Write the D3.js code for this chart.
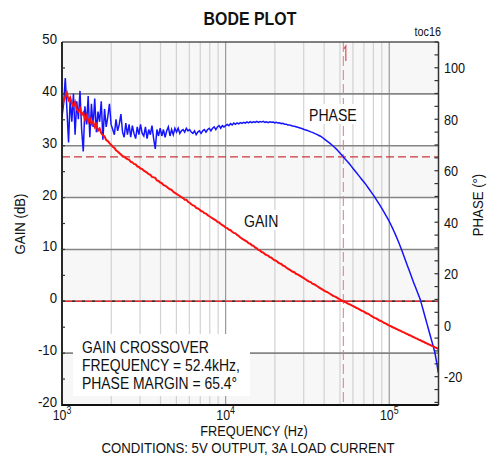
<!DOCTYPE html>
<html>
<head>
<meta charset="utf-8">
<script src="https://cdn.jsdelivr.net/npm/d3@7"></script>
<style>
  body { margin: 0; background: #fff; }
  svg { display: block; }
</style>
</head>
<body>
<svg id="chart" width="490" height="458"></svg>
<script>
// Gain (dB) and phase (deg), analyzer sweep 1kHz..200kHz, 100 points per decade
const gainDb = [
  37.5, 38.6, 39.4, 40.2, 38.8, 39.3, 38.1, 37.6, 38.4, 37.0,
  36.6, 37.2, 35.9, 36.4, 35.1, 35.8, 34.6, 35.3, 34.2, 34.7,
  33.6, 34.1, 32.9, 33.3, 32.4, 32.0, 31.8, 31.1, 30.9, 30.5,
  30.2, 29.8, 29.6, 29.1, 28.9, 28.6, 28.3, 28.0, 27.9, 27.6,
  27.4, 27.3, 26.9, 26.8, 26.5, 26.4, 26.0, 25.9, 25.6, 25.5,
  25.2, 25.0, 24.8, 24.5, 24.4, 24.0, 23.9, 23.8, 23.3, 23.2,
  22.9, 22.8, 22.4, 22.3, 22.1, 21.8, 21.6, 21.5, 21.1, 20.9,
  20.7, 20.5, 20.3, 20.1, 19.9, 19.6, 19.6, 19.2, 19.0, 18.7,
  18.5, 18.4, 18.0, 17.9, 17.7, 17.4, 17.3, 17.0, 16.9, 16.6,
  16.4, 16.2, 16.0, 15.8, 15.6, 15.3, 15.2, 14.9, 14.7, 14.5,
  14.2, 14.1, 13.8, 13.7, 13.4, 13.2, 13.1, 12.8, 12.6, 12.3,
  12.1, 11.9, 11.7, 11.5, 11.2, 11.1, 10.8, 10.7, 10.4, 10.2,
  9.9, 9.8, 9.5, 9.4, 9.1, 8.9, 8.8, 8.5, 8.4, 8.1,
  7.9, 7.8, 7.5, 7.3, 7.2, 6.9, 6.8, 6.5, 6.3, 6.1,
  5.9, 5.7, 5.6, 5.3, 5.2, 5.0, 4.8, 4.6, 4.4, 4.2,
  4.0, 3.8, 3.7, 3.4, 3.3, 3.1, 2.9, 2.7, 2.5, 2.3,
  2.1, 1.9, 1.8, 1.6, 1.4, 1.2, 1.0, 0.9, 0.7, 0.5,
  0.3, 0.15, -0.02, -0.15, -0.3, -0.5, -0.6, -0.8, -0.95, -1.1,
  -1.3, -1.4, -1.6, -1.8, -1.9, -2.1, -2.3, -2.4, -2.6, -2.8,
  -3.0, -3.2, -3.3, -3.5, -3.7, -3.8, -4.0, -4.2, -4.3, -4.5,
  -4.7, -4.8, -5.0, -5.1, -5.3, -5.4, -5.6, -5.7, -5.9, -6.0,
  -6.2, -6.3, -6.5, -6.6, -6.8, -6.9, -7.1, -7.2, -7.4, -7.5,
  -7.7, -7.8, -8.0, -8.1, -8.3, -8.4, -8.6, -8.7, -8.9, -9.0,
  -9.2
];

const phaseDeg = [
  81, 86, 96, 84, 71, 88, 79, 90, 74, 87,
  80, 91, 76, 67.5, 85, 78, 89, 73, 86, 77,
  88, 75, 83, 79, 87, 72, 84, 77, 81, 86,
  78, 76, 74, 80, 75.5, 78, 82, 75, 73, 78.5,
  74, 78, 73, 77.5, 74.5, 72.5, 77, 74, 78, 74.5,
  73.5, 77, 72.5, 76, 74, 77.5, 72.5, 68.5, 76, 73.5,
  76.5, 73.5, 76, 73, 75.5, 77, 73.5, 76, 74, 76.5,
  75, 76.5, 74.5, 75.5, 76, 75, 76.5, 75.5, 76, 75,
  74.5, 75.5, 74, 75, 75.5, 74.5, 75.5, 76, 75, 76,
  76.5, 75.5, 76.5, 77, 76, 77, 77.5, 76.5, 77.5, 77,
  77.5, 78, 77.5, 78.3, 77.8, 78.5, 78, 78.6, 78.2, 78.7,
  78.4, 78.8, 78.5, 79, 78.6, 79.1, 78.7, 79, 78.8, 79.2,
  78.8, 79.1, 78.9, 79.2, 78.8, 79, 78.7, 79, 78.8, 78.9,
  78.6, 78.8, 78.5, 78.6, 78.3, 78.4, 78.1, 78.1, 77.8, 77.8,
  77.6, 77.4, 77.3, 77.1, 76.9, 76.7, 76.5, 76.3, 76.0, 75.8,
  75.6, 75.4, 75.1, 74.9, 74.6, 74.3, 74.0, 73.7, 73.4, 73.0,
  72.5, 72.0, 71.5, 71.0, 70.5, 70.0, 69.4, 68.8, 68.2, 67.5,
  66.8, 66.1, 65.3, 64.6, 63.9, 63.2, 62.4, 61.6, 60.8, 60.0,
  59.2, 58.4, 57.6, 56.8, 56.0, 55.2, 54.4, 53.5, 52.6, 51.7,
  50.8, 49.9, 48.9, 47.9, 46.9, 45.9, 44.8, 43.7, 42.6, 41.5,
  40.3, 39.0, 37.7, 36.3, 34.9, 33.4, 31.8, 30.2, 28.5, 26.8,
  25.0, 23.3, 21.6, 19.9, 18.1, 16.4, 14.8, 13.2, 11.5, 9.9,
  7.6, 5.3, 3.0, 0.7, -1.6, -3.9, -6.2, -8.5, -11.0, -14.5,
  -18.5
];

// sweep points: 10^(3 + i/100) Hz
const freqHz = gainDb.map((_, i) => Math.pow(10, 3 + i / 100));

const gainTicks = [-20, -10, 0, 10, 20, 30, 40, 50];
const phaseTicks = [-20, 0, 20, 40, 60, 80, 100];
const freqDecades = [1e3, 1e4, 1e5];
const crossoverHz = 52400;
const phaseMargin = 65.4;
const annotation = ["GAIN CROSSOVER", "FREQUENCY = 52.4kHz,", "PHASE MARGIN = 65.4\u00B0"];

const W = 490, H = 458;
const L = 62, R = 438.5, T = 42, B = 405;
const FONT = "'Liberation Sans', Arial, sans-serif";
const SX = 0.88;

const svg = d3.select("#chart");

const x = d3.scaleLog().domain([1e3, 2e5]).range([L, R]);
const yG = d3.scaleLinear().domain([-20, 50]).range([B, T]);
const yP = d3.scaleLinear().domain([-31, 110]).range([B, T]);

// text helper with narrow horizontal scale
function label(parent, px, py, str, size, opts = {}) {
    const g = parent.append("g")
        .attr("transform", `translate(${px},${py}) rotate(${opts.rotate || 0}) scale(${opts.sx || SX},1)`);
    return g.append("text")
        .attr("font-family", FONT)
        .attr("font-size", size)
        .attr("font-weight", opts.weight || "normal")
        .attr("text-anchor", opts.anchor || "start")
        .attr("fill", "#111")
        .text(str);
}

svg.append("defs").append("clipPath").attr("id", "plotclip")
    .append("rect").attr("x", L).attr("y", T).attr("width", R - L).attr("height", B - T);

// background bands
const bands = [[40, 50], [20, 30], [0, 10], [-20, -10]];
svg.append("g").selectAll("rect").data(bands).join("rect")
    .attr("x", L).attr("width", R - L)
    .attr("y", d => yG(d[1])).attr("height", d => yG(d[0]) - yG(d[1]))
    .attr("fill", "#f7f7f7");

// vertical grid lines
const minorF = [];
[1e3, 1e4, 1e5].forEach(dec => d3.range(2, 10).forEach(m => { if (dec * m < 2e5) minorF.push(dec * m); }));
svg.append("g").selectAll("line").data(minorF).join("line")
    .attr("x1", d => x(d)).attr("x2", d => x(d)).attr("y1", T).attr("y2", B)
    .attr("stroke", "#d2d2d2").attr("stroke-width", 1.2);
svg.append("g").selectAll("line").data([1e4, 1e5]).join("line")
    .attr("x1", d => x(d)).attr("x2", d => x(d)).attr("y1", T).attr("y2", B)
    .attr("stroke", "#9a9a9a").attr("stroke-width", 1.2);

// horizontal grid lines
svg.append("g").selectAll("line").data([-10, 0, 10, 20, 30, 40]).join("line")
    .attr("x1", L).attr("x2", R).attr("y1", d => yG(d)).attr("y2", d => yG(d))
    .attr("stroke", "#858585").attr("stroke-width", 1.6);

// 0 dB reference (red with dark dashes)
svg.append("line").attr("x1", L).attr("x2", R).attr("y1", yG(0)).attr("y2", yG(0))
    .attr("stroke", "#e8262a").attr("stroke-width", 1.4);
svg.append("line").attr("x1", L).attr("x2", R).attr("y1", yG(0)).attr("y2", yG(0))
    .attr("stroke", "#333").attr("stroke-width", 1.4).attr("stroke-dasharray", "3,7");

// phase margin dashed line
svg.append("line").attr("x1", L).attr("x2", R).attr("y1", yP(phaseMargin)).attr("y2", yP(phaseMargin))
    .attr("stroke", "#c8383c").attr("stroke-width", 1.3).attr("stroke-dasharray", "8,4");

// crossover dashed line
svg.append("line").attr("x1", x(crossoverHz)).attr("x2", x(crossoverHz)).attr("y1", T).attr("y2", B)
    .attr("stroke", "#e87580").attr("stroke-width", 1).attr("stroke-dasharray", "10,4");
svg.append("path")
    .attr("d", `M${x(crossoverHz) + 0.5},${T + 7} L${x(crossoverHz) + 2.5},${T + 4} L${x(crossoverHz) + 2.5},${T + 19}`)
    .attr("fill", "none").attr("stroke", "#e04a5a").attr("stroke-width", 1.2);

// white boxes behind labels
svg.append("rect").attr("x", 73).attr("y", 334).attr("width", 177).attr("height", 62).attr("fill", "#fff");
svg.append("rect").attr("x", 306).attr("y", 104).attr("width", 54).attr("height", 20).attr("fill", "#fff");
svg.append("rect").attr("x", 241).attr("y", 210).attr("width", 40).attr("height", 20).attr("fill", "#fff");

// curves
const plot = svg.append("g").attr("clip-path", "url(#plotclip)");
const gainLine = d3.line().x((d, i) => x(freqHz[i])).y(d => yG(d));
const phaseLine = d3.line().x((d, i) => x(freqHz[i])).y(d => yP(d));
plot.append("path").datum(phaseDeg).attr("d", phaseLine)
    .attr("fill", "none").attr("stroke", "#1414ff").attr("stroke-width", 1.5);
plot.append("path").datum(gainDb).attr("d", gainLine)
    .attr("fill", "none").attr("stroke", "#ff1010").attr("stroke-width", 2);

// frame
svg.append("line").attr("x1", L).attr("x2", R).attr("y1", T).attr("y2", T).attr("stroke", "#555").attr("stroke-width", 1.5);
svg.append("line").attr("x1", R).attr("x2", R).attr("y1", T).attr("y2", B).attr("stroke", "#333").attr("stroke-width", 1.5);
svg.append("line").attr("x1", L).attr("x2", L).attr("y1", T).attr("y2", B + 1).attr("stroke", "#111").attr("stroke-width", 1.8);
svg.append("line").attr("x1", L).attr("x2", R).attr("y1", B).attr("y2", B).attr("stroke", "#111").attr("stroke-width", 1.8);

// left axis ticks (every 5 dB, inward) and labels
svg.append("g").selectAll("line").data(d3.range(-15, 50, 5)).join("line")
    .attr("x1", L).attr("x2", L + 3).attr("y1", d => yG(d)).attr("y2", d => yG(d))
    .attr("stroke", "#333").attr("stroke-width", 1.2);
gainTicks.forEach(v => label(svg, 57, yG(v) + 2, String(v), 15, { anchor: "end" }));

// right axis ticks (every 5 deg, inward) and labels
svg.append("g").selectAll("line").data(d3.range(-30, 111, 5)).join("line")
    .attr("x1", R - 4).attr("x2", R).attr("y1", d => yP(d)).attr("y2", d => yP(d))
    .attr("stroke", "#333").attr("stroke-width", 1.2);
phaseTicks.forEach(v => label(svg, 444, yP(v) + 5.5, String(v), 15.5, { sx: 0.82 }));

// x tick labels with superscripts
freqDecades.forEach(f => {
    const t = label(svg, x(f), 420, "10", 14, { anchor: "middle" });
    t.append("tspan").attr("font-size", 10).attr("dy", -6).text(String(Math.round(Math.log10(f))));
});

// titles and axis labels
label(svg, 250, 25, "BODE PLOT", 18.5, { anchor: "middle", weight: "bold", sx: 0.86 });
label(svg, 441, 36, "toc16", 12, { anchor: "end", sx: 0.9 });
label(svg, 254, 436.3, "FREQUENCY  (Hz)", 14.5, { anchor: "middle" });
label(svg, 248, 453, "CONDITIONS:  5V OUTPUT, 3A LOAD CURRENT", 15, { anchor: "middle" });
label(svg, 25, 224, "GAIN (dB)", 15, { anchor: "middle", rotate: -90 });
label(svg, 483, 205, "PHASE (\u00B0)", 15, { anchor: "middle", rotate: -90 });

// curve labels
label(svg, 309, 120.5, "PHASE", 16);
label(svg, 244, 226.5, "GAIN", 16);

// crossover annotation
annotation.forEach((s, i) => label(svg, 82, 353 + i * 18.2, s, 16, { sx: 0.87 }));
</script>
</body>
</html>
